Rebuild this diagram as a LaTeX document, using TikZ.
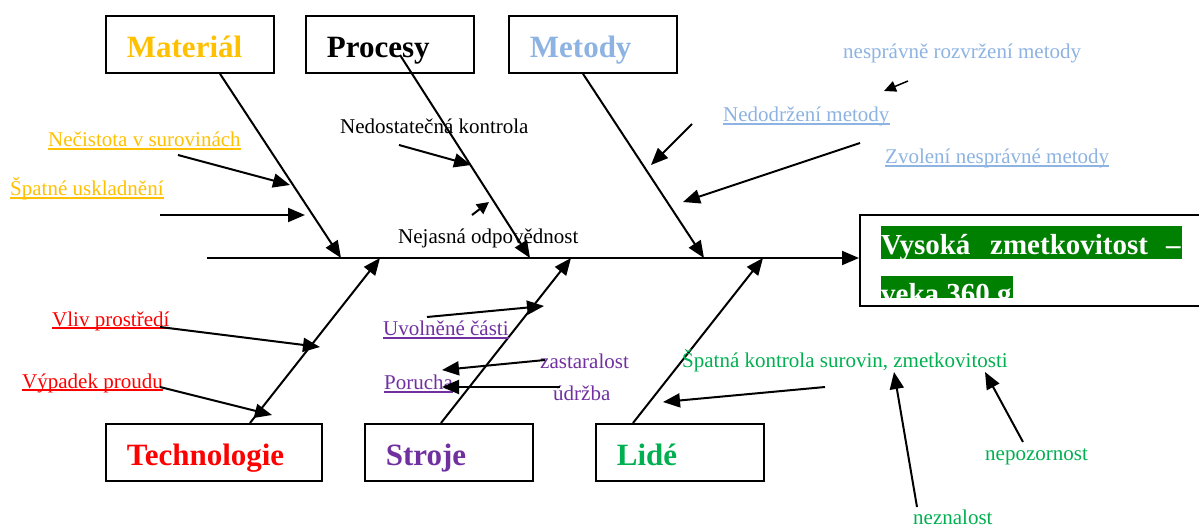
\documentclass[tikz,border=0pt]{standalone}
\usepackage{fontspec}
\setmainfont{Liberation Serif}
\usetikzlibrary{arrows.meta,calc}
\definecolor{cOrange}{HTML}{FFC000}
\definecolor{cBlue}{HTML}{8DB3E2}
\definecolor{cRed}{HTML}{FF0000}
\definecolor{cPurple}{HTML}{7030A0}
\definecolor{cGreen}{HTML}{00B050}
\definecolor{cDark}{HTML}{008000}
\begin{document}
\begin{tikzpicture}[x=1pt,y=-1pt,
  arr/.style={line width=2pt,-{Triangle[length=17pt,width=14pt]}},
  catbox/.style={draw,line width=1.8pt,anchor=north west,minimum height=57pt,
    inner xsep=21pt,inner ysep=0pt,align=left,text height=30pt,text depth=3pt,
    font=\fontsize{31}{31}\selectfont\bfseries},
  sub/.style={anchor=base west,inner sep=0pt,font=\fontsize{21}{21}\selectfont},
  efftext/.style={anchor=base west,inner sep=0pt,text=white,font=\fontsize{29}{29}\selectfont\bfseries},
  uline/.style={line width=1.2pt}
  ]
\useasboundingbox (0,0) rectangle (1199,527);

% category boxes
\node[catbox,text width=126pt,text=cOrange] (mat) at (105,15) {Materiál};
\node[catbox,text width=126pt,text=black] (pro) at (305,15) {Procesy};
\node[catbox,text width=126pt,text=cBlue] (met) at (508,15) {Metody};
\node[catbox,text width=174pt,text=cRed] (tec) at (105,423) {Technologie};
\node[catbox,text width=126pt,text=cPurple] (str) at (364,423) {Stroje};
\node[catbox,text width=126pt,text=cGreen] (lid) at (595,423) {Lidé};

% effect box
\node[draw,line width=1.8pt,anchor=north west,minimum width=345pt,minimum height=91pt,inner sep=0pt] (eff) at (859,214) {};
\fill[cDark] (881,226) rectangle (1182,259);
\node[efftext] (e1) at (881,254) {Vysoká};
\node[efftext] (e2) at (990,254) {zmetkovitost};
\node[efftext] (e3) at (1166,254) {–};
\begin{scope}
  \clip (881,276) rectangle (1013,298);
  \fill[cDark] (881,276) rectangle (1013,298);
  \node[efftext] (e4) at (881,303) {veka 360 g};
\end{scope}

% spine
\coordinate (spstart) at (207,258);
\coordinate (s1) at (341,258);
\coordinate (s2) at (530,258);
\coordinate (s3) at (704,258);
\coordinate (b1) at (380,258);
\coordinate (b2) at (571,258);
\coordinate (b3) at (763,258);
\draw[arr] (spstart) -- ($(eff.north west)+(0,44)$);

% main branches
\draw[arr] ($(mat.south west)+(115,0)$) -- (s1);
\draw[arr] (400,55) coordinate (pstart) -- (s2);
\draw[arr] ($(met.south west)+(75,0)$) -- (s3);
\draw[arr] ($(tec.north west)+(145,0)$) -- (b1);
\draw[arr] ($(str.north west)+(77,0)$) -- (b2);
\draw[arr] ($(lid.north west)+(38,0)$) -- (b3);

% texts
\node[sub,text=cOrange] (t1) at (48,146) {Nečistota v surovinách};
\draw[uline,cOrange] ($(t1.base west)+(0,3)$) -- ($(t1.base east)+(0,3)$);
\node[sub,text=cOrange] (t2) at (10,195) {Špatné uskladnění};
\draw[uline,cOrange] ($(t2.base west)+(0,3)$) -- ($(t2.base east)+(0,3)$);
\node[sub] (t3) at (340,133) {Nedostatečná kontrola};
\node[sub] (t4) at (398,243) {Nejasná odpovědnost};
\node[sub,text=cBlue] (t5) at (723,121) {Nedodržení metody};
\draw[uline,cBlue] ($(t5.base west)+(0,3)$) -- ($(t5.base east)+(0,3)$);
\node[sub,text=cBlue] (t6) at (885,163) {Zvolení nesprávné metody};
\draw[uline,cBlue] ($(t6.base west)+(0,3)$) -- ($(t6.base east)+(0,3)$);
\node[sub,text=cBlue] (t7) at (843,59) {nesprávně rozvržení metody};
\node[sub,text=cRed] (t8) at (52,326) {Vliv prostředí};
\draw[uline,cRed] ($(t8.base west)+(0,2)$) -- ($(t8.base east)+(0,2)$);
\node[sub,text=cRed] (t9) at (22,388) {Výpadek proudu};
\draw[uline,cRed] ($(t9.base west)+(0,2)$) -- ($(t9.base east)+(0,2)$);
\node[sub,text=cPurple] (t10) at (383,335) {Uvolněné části};
\draw[uline,cPurple] ($(t10.base west)+(0,3)$) -- ($(t10.base east)+(0,3)$);
\node[sub,text=cPurple] (t11) at (384,389) {Porucha};
\draw[uline,cPurple] ($(t11.base west)+(0,3)$) -- ($(t11.base east)+(0,3)$);
\node[sub,text=cPurple] (t12) at (540,368) {zastaralost};
\node[sub,text=cPurple] (t13) at (553,400) {údržba};
\node[sub,text=cGreen] (t14) at (682,367) {Špatná kontrola surovin, zmetkovitosti};
\node[sub,text=cGreen] (t15) at (985,460) {nepozornost};
\node[sub,text=cGreen] (t16) at (913,524) {neznalost};

% sub arrows
\coordinate (a1s) at (178,155); \coordinate (a1e) at (290,185);
\draw[arr] (a1s) -- (a1e);
\coordinate (a2s) at (160,215); \coordinate (a2e) at (305,215);
\draw[arr] (a2s) -- (a2e);
\coordinate (a3s) at (399,145); \coordinate (a3e) at (471,165);
\draw[arr] (a3s) -- (a3e);
\coordinate (a4s) at (472,215); \coordinate (a4e) at (489,202);
\draw[line width=2pt,-{Triangle[length=12pt,width=12pt]}] (a4s) -- (a4e);
\coordinate (a5s) at (692,124); \coordinate (a5e) at (651,165);
\draw[arr] (a5s) -- (a5e);
\coordinate (a6s) at (860,143); \coordinate (a6e) at (683,202);
\draw[arr] (a6s) -- (a6e);
\coordinate (a7s) at (908,81); \coordinate (a7e) at (884,91);
\draw[line width=1.5pt,-{Triangle[length=12pt,width=11pt]}] (a7s) -- (a7e);
\coordinate (a8s) at (160,327); \coordinate (a8e) at (320,347);
\draw[arr] (a8s) -- (a8e);
\coordinate (a9s) at (160,387); \coordinate (a9e) at (272,415);
\draw[arr] (a9s) -- (a9e);
\coordinate (a10s) at (427,317); \coordinate (a10e) at (544,306);
\draw[arr] (a10s) -- (a10e);
\coordinate (a11s) at (545,360); \coordinate (a11e) at (442,370);
\draw[arr] (a11s) -- (a11e);
\coordinate (a12s) at (560,387); \coordinate (a12e) at (442,387);
\draw[arr] (a12s) -- (a12e);
\coordinate (a13s) at (825,387); \coordinate (a13e) at (663,402);
\draw[arr] (a13s) -- (a13e);
\coordinate (a14s) at (917,507); \coordinate (a14e) at (894,372);
\draw[arr] (a14s) -- (a14e);
\coordinate (a15s) at (1023,442); \coordinate (a15e) at (985,372);
\draw[arr] (a15s) -- (a15e);
\end{tikzpicture}
\end{document}
